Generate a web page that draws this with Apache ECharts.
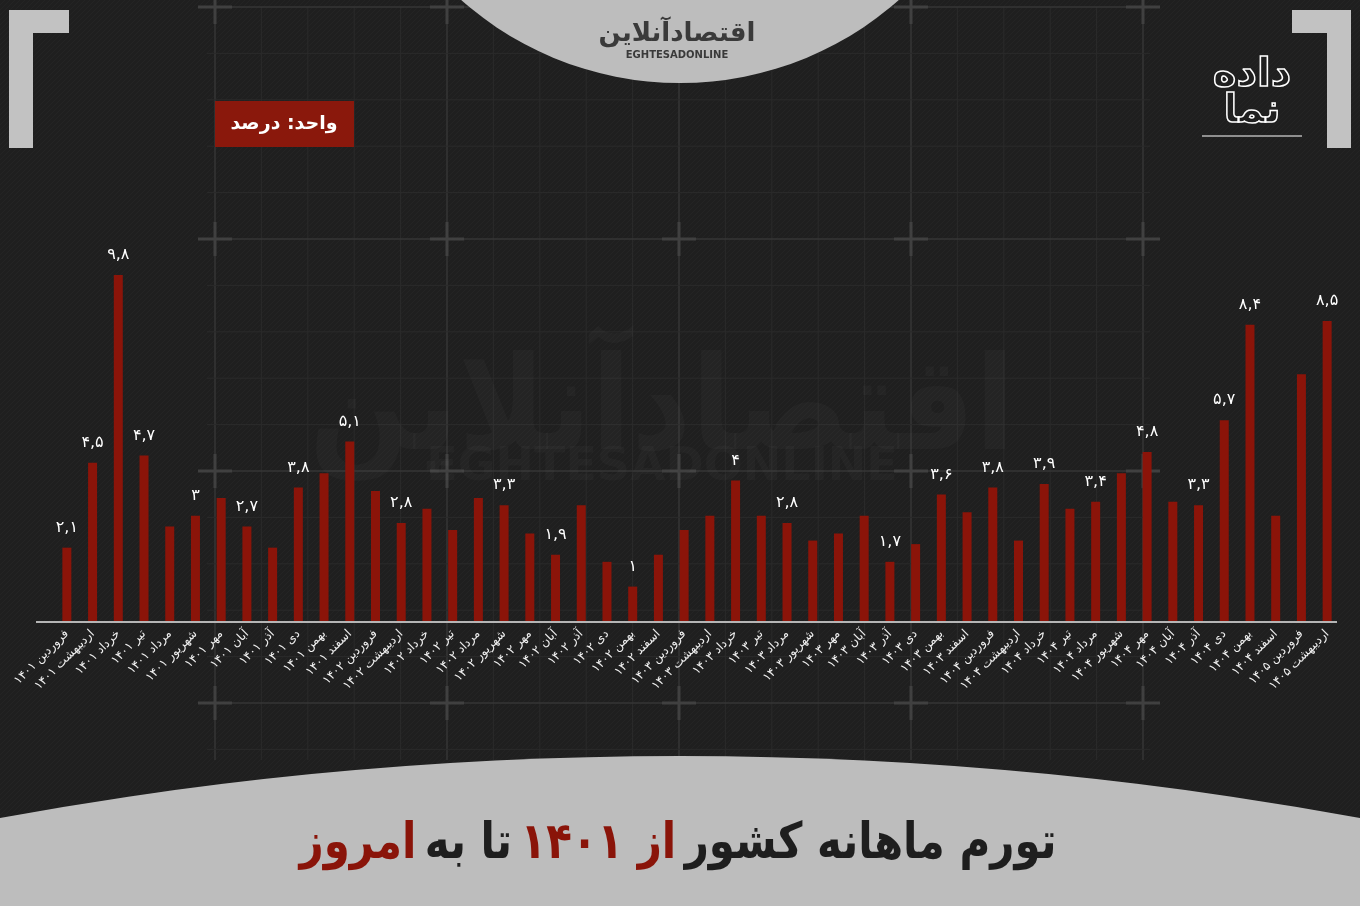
<!DOCTYPE html>
<html><head><meta charset="utf-8">
<script src="https://cdn.jsdelivr.net/npm/echarts@6/dist/echarts.min.js"></script>
<style>html,body{margin:0;padding:0;background:#1f1f1f}#c{width:1360px;height:906px}</style>
</head><body><div id="c"></div>
<script>
const categories = [
'فروردین ۱۴۰۱','اردیبهشت ۱۴۰۱','خرداد ۱۴۰۱','تیر ۱۴۰۱','مرداد ۱۴۰۱','شهریور ۱۴۰۱','مهر ۱۴۰۱','آبان ۱۴۰۱','آذر ۱۴۰۱','دی ۱۴۰۱','بهمن ۱۴۰۱','اسفند ۱۴۰۱',
'فروردین ۱۴۰۲','اردیبهشت ۱۴۰۲','خرداد ۱۴۰۲','تیر ۱۴۰۲','مرداد ۱۴۰۲','شهریور ۱۴۰۲','مهر ۱۴۰۲','آبان ۱۴۰۲','آذر ۱۴۰۲','دی ۱۴۰۲','بهمن ۱۴۰۲','اسفند ۱۴۰۲',
'فروردین ۱۴۰۳','اردیبهشت ۱۴۰۳','خرداد ۱۴۰۳','تیر ۱۴۰۳','مرداد ۱۴۰۳','شهریور ۱۴۰۳','مهر ۱۴۰۳','آبان ۱۴۰۳','آذر ۱۴۰۳','دی ۱۴۰۳','بهمن ۱۴۰۳','اسفند ۱۴۰۳',
'فروردین ۱۴۰۴','اردیبهشت ۱۴۰۴','خرداد ۱۴۰۴','تیر ۱۴۰۴','مرداد ۱۴۰۴','شهریور ۱۴۰۴','مهر ۱۴۰۴','آبان ۱۴۰۴','آذر ۱۴۰۴','دی ۱۴۰۴','بهمن ۱۴۰۴','اسفند ۱۴۰۴',
'فروردین ۱۴۰۵','اردیبهشت ۱۴۰۵'];
const inflation = [
2.1,4.5,9.8,4.7,2.7,3.0,3.5,2.7,2.1,3.8,4.2,5.1,
3.7,2.8,3.2,2.6,3.5,3.3,2.5,1.9,3.3,1.7,1.0,1.9,
2.6,3.0,4.0,3.0,2.8,2.3,2.5,3.0,1.7,2.2,3.6,3.1,
3.8,2.3,3.9,3.2,3.4,4.2,4.8,3.4,3.3,5.7,8.4,3.0,
7.0,8.5];
const labelShown = [
1,1,1,1,0,1,0,1,0,1,0,1,
0,1,0,0,0,1,0,1,0,0,1,0,
0,0,1,0,1,0,0,0,1,0,1,0,
1,0,1,0,1,0,1,0,1,1,1,0,
0,1];
const unitText = 'واحد: درصد';
const titleParts = ['امروز','تا به','از ۱۴۰۱','تورم ماهانه کشور'];

const FA = '۰۱۲۳۴۵۶۷۸۹';
function toFa(v){ return String(v).replace(/[0-9]/g, d => FA[+d]).replace('.', ','); }

const FONT = '"DejaVu Sans", "Noto Sans", sans-serif';
const BAR = '#8b1409';
const GRAYSH = '#bdbdbd';

// subtle diagonal stripe texture
const pat = document.createElement('canvas');
pat.width = 5; pat.height = 5;
(function(){
  const g = pat.getContext('2d');
  g.fillStyle = '#1f1f1f'; g.fillRect(0,0,5,5);
  g.strokeStyle = '#242424'; g.lineWidth = 1;
  g.beginPath(); g.moveTo(0,5); g.lineTo(5,0); g.stroke();
})();

const deco = [{type:'rect', z:-1, silent:true, shape:{x:0,y:0,width:1360,height:906}, style:{fill:{image:pat, repeat:'repeat'}}}];
const step = 46.4;
for (let k = 0; k <= 20; k++) {
  const x = 215 + k * step;
  deco.push({type:'line', z:0, silent:true, shape:{x1:x,y1:7,x2:x,y2:760},
    style:{stroke: k % 5 === 0 ? '#363636' : '#2a2a2a', lineWidth: k % 5 === 0 ? 1.5 : 1}});
}
for (let k = 0; k <= 16; k++) {
  const y = 7 + k * step;
  deco.push({type:'line', z:0, silent:true, shape:{x1:207,y1:y,x2:1150,y2:y},
    style:{stroke: k % 5 === 0 ? '#363636' : '#2a2a2a', lineWidth: k % 5 === 0 ? 1.5 : 1}});
}
[215,447,679,911,1143].forEach(x => [7,239,471,703].forEach(y => {
  deco.push({type:'line', z:0, silent:true, shape:{x1:x-17,y1:y,x2:x+17,y2:y}, style:{stroke:'#404040', lineWidth:3}});
  deco.push({type:'line', z:0, silent:true, shape:{x1:x,y1:y-17,x2:x,y2:y+17}, style:{stroke:'#404040', lineWidth:3}});
}));

const graphics = deco.concat([
  // watermark
  {type:'text', z:1, silent:true, x:662, y:415, scaleX:0.9, originX:0, originY:0, style:{text:'اقتصادآنلاین', font:'bold 130px '+FONT, fill:'rgba(255,255,255,0.025)', align:'center', verticalAlign:'middle'}},
  {type:'text', z:1, silent:true, x:662, y:468, style:{text:'EGHTESADONLINE', font:'bold 46px '+FONT, fill:'rgba(255,255,255,0.025)', align:'center', verticalAlign:'middle'}},
  // top gray cap
  {type:'circle', z:5, silent:true, shape:{cx:680, cy:-247, r:330}, style:{fill:GRAYSH}},
  {type:'text', z:6, silent:true, x:677, y:34, style:{text:'اقتصادآنلاین', font:'bold 26px '+FONT, fill:'#3a3a3a', align:'center', verticalAlign:'middle'}},
  {type:'text', z:6, silent:true, x:677, y:55, style:{text:'EGHTESADONLINE', font:'bold 10px '+FONT, fill:'#3a3a3a', align:'center', verticalAlign:'middle'}},
  // bottom gray arc
  {type:'circle', z:5, silent:true, shape:{cx:680, cy:756+3760, r:3760}, style:{fill:GRAYSH}},
  // corner brackets
  {type:'rect', z:5, silent:true, shape:{x:9,y:10,width:24,height:138}, style:{fill:'#c2c2c2'}},
  {type:'rect', z:5, silent:true, shape:{x:9,y:10,width:60,height:23}, style:{fill:'#c2c2c2'}},
  {type:'rect', z:5, silent:true, shape:{x:1327,y:10,width:24,height:138}, style:{fill:'#c2c2c2'}},
  {type:'rect', z:5, silent:true, shape:{x:1292,y:10,width:59,height:23}, style:{fill:'#c2c2c2'}},
  // unit box
  {type:'rect', z:5, silent:true, shape:{x:215,y:101,width:139,height:46}, style:{fill:'#8a180c'}},
  {type:'text', z:6, silent:true, x:284, y:124, style:{text:unitText, font:'bold 19px '+FONT, fill:'#ffffff', align:'center', verticalAlign:'middle'}},
  // right logo
  {type:'text', z:6, silent:true, x:1252, y:76, style:{text:'داده', font:'bold 40px '+FONT, fill:'none', stroke:'#ffffff', lineWidth:1.5, align:'center', verticalAlign:'middle'}},
  {type:'text', z:6, silent:true, x:1252, y:112, style:{text:'نما', font:'bold 40px '+FONT, fill:'none', stroke:'#ffffff', lineWidth:1.5, align:'center', verticalAlign:'middle'}},
  {type:'line', z:6, silent:true, shape:{x1:1202,y1:136,x2:1302,y2:136}, style:{stroke:'#ffffff', lineWidth:1}},
  // baseline
  {type:'line', z:4, silent:true, shape:{x1:36,y1:622,x2:1337,y2:622}, style:{stroke:'#b5b5b5', lineWidth:2}},
  // title
  {type:'text', z:7, silent:true, x:678, y:845, scaleX:0.84, originX:0, originY:0, style:{
    text:'{r|'+titleParts[0]+'}{b|'+titleParts[1]+'}{r|'+titleParts[2]+'}{b|'+titleParts[3]+'}',
    align:'center', verticalAlign:'middle',
    rich:{
      r:{font:'bold 50px '+FONT, fill:'#8a1409', padding:[0,5]},
      b:{font:'bold 50px '+FONT, fill:'#1e1e1e', padding:[0,5]}
    }}}
]);

const chart = echarts.init(document.getElementById('c'), null, {renderer:'canvas'});
chart.setOption({
  backgroundColor:'#1f1f1f',
  animation:false,
  grid:{left:54, right:20, top:268, bottom:284, containLabel:false},
  xAxis:{type:'category', data:categories,
    axisLine:{show:false}, axisTick:{show:false}, splitLine:{show:false},
    axisLabel:{interval:0, rotate:45, margin:10, color:'#f0f0f0', fontSize:12, fontFamily:FONT}},
  yAxis:{type:'value', min:0, max:10, show:false, splitLine:{show:false}},
  graphic:graphics,
  series:[{type:'bar', z:3, barWidth:9,
    data:inflation.map((v,i) => ({value:v, label:{show: !!labelShown[i]}})),
    itemStyle:{color:BAR},
    label:{position:'top', distance:12, color:'#ffffff', fontSize:16, fontFamily:FONT,
      formatter: p => toFa(p.value)}
  }]
});
</script></body></html>
